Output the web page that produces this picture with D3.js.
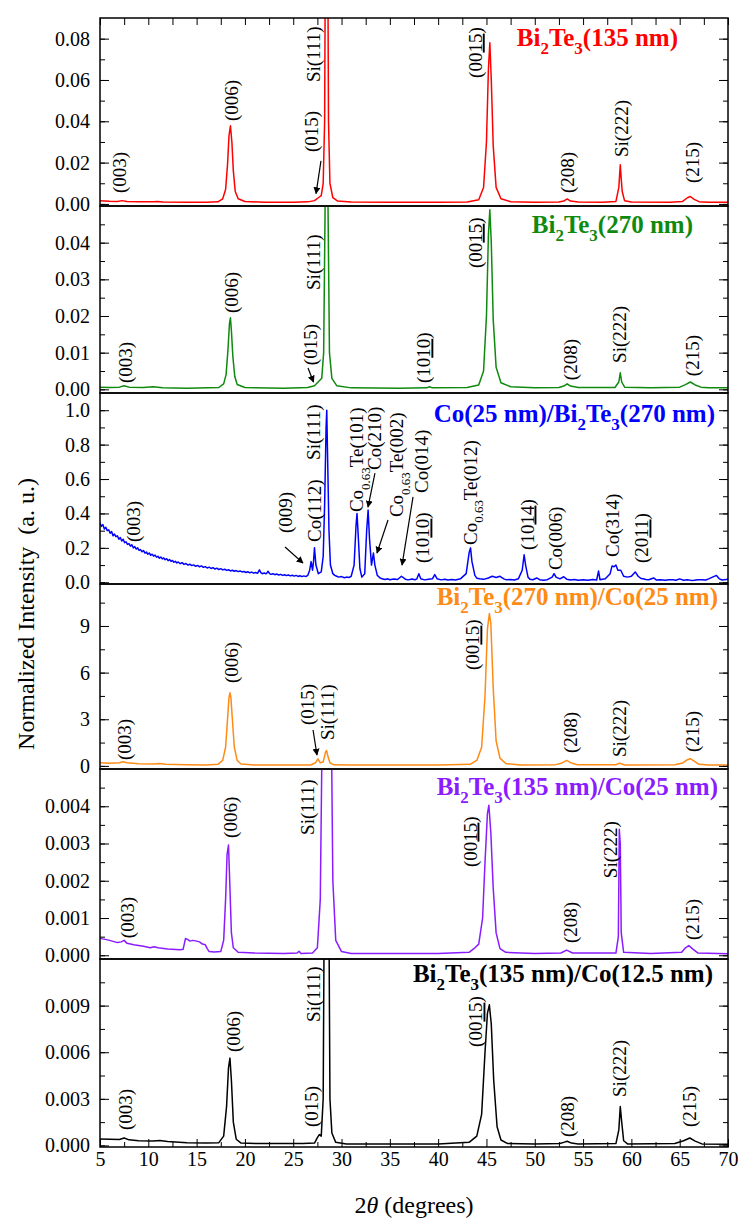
<!DOCTYPE html>
<html>
<head>
<meta charset="utf-8">
<script src="https://cdn.jsdelivr.net/npm/d3@7"></script>
<style>
  body { margin: 0; background: #fff; }
  text { font-family: "Liberation Serif", "Times New Roman", serif; }
</style>
</head>
<body>
<svg id="chart" width="738" height="1218"></svg>
<script>
// ---------- x axis ----------
const twoThetaTicks = [5, 10, 15, 20, 25, 30, 35, 40, 45, 50, 55, 60, 65, 70];

// ---------- y tick values per panel ----------
const yTicksBT135 = [0, 0.02, 0.04, 0.06, 0.08];
const yTicksBT270 = [0, 0.01, 0.02, 0.03, 0.04];
const yTicksCoBT = [0, 0.2, 0.4, 0.6, 0.8, 1.0];
const yTicksBT270Co = [0, 3, 6, 9];
const yTicksBT135Co25 = [0, 0.001, 0.002, 0.003, 0.004];
const yTicksBT135Co12 = [0, 0.003, 0.006, 0.009];

// ---------- XRD patterns: [2theta (deg), normalized intensity] ----------
const bt135 = [[5,0.0016],[6,0.0013],[6.8,0.0012],[7.3,0.0016],[7.8,0.0012],[9,0.0010],[10.5,0.0010],[11,0.0012],[11.5,0.0009],[14,0.0008],[16,0.0008],[17.2,0.0010],[17.7,0.0025],[18.0,0.0070],[18.2,0.0190],[18.35,0.0330],[18.5,0.0378],[18.65,0.0300],[18.8,0.0160],[19.0,0.0060],[19.3,0.0025],[20,0.0012],[22,0.0008],[25,0.0008],[26.5,0.0010],[27.2,0.0016],[27.6,0.0030],[27.9,0.0040],[28.1,0.0100],[28.25,0.0400],[28.35,0.1500],[28.45,0.3000],[28.55,0.1500],[28.65,0.0400],[28.8,0.0100],[29.1,0.0030],[29.6,0.0014],[31,0.0009],[35,0.0008],[40,0.0008],[43,0.0009],[44.2,0.0020],[44.7,0.0080],[45.0,0.0300],[45.2,0.0650],[45.35,0.0780],[45.5,0.0600],[45.7,0.0280],[46.0,0.0080],[46.5,0.0025],[47.5,0.0011],[50,0.0008],[52.5,0.0009],[53.0,0.0014],[53.35,0.0024],[53.7,0.0014],[54.5,0.0009],[57,0.0008],[58.4,0.0012],[58.7,0.0080],[58.85,0.0190],[58.95,0.0120],[59.05,0.0060],[59.3,0.0015],[60,0.0009],[64,0.0008],[65.3,0.0012],[65.8,0.0030],[66.1,0.0036],[66.5,0.0022],[67,0.0011],[68,0.0008],[70,0.0008]];

const bt270 = [[5,0.0006],[6,0.0005],[7,0.0006],[7.5,0.0010],[8,0.0006],[9.5,0.0005],[10.5,0.0007],[11.5,0.0004],[14,0.0003],[17.3,0.0005],[17.8,0.0015],[18.05,0.0040],[18.25,0.0110],[18.4,0.0180],[18.5,0.0195],[18.6,0.0160],[18.75,0.0090],[18.95,0.0035],[19.2,0.0013],[20,0.0005],[24,0.0003],[26.5,0.0005],[27.2,0.0010],[27.65,0.0022],[27.95,0.0030],[28.15,0.0100],[28.3,0.0500],[28.45,0.2000],[28.6,0.0500],[28.75,0.0100],[29.0,0.0030],[29.5,0.0010],[31,0.0004],[36,0.0003],[38.8,0.0004],[39.1,0.0007],[39.4,0.0004],[43,0.0005],[44.2,0.0012],[44.7,0.0050],[45.0,0.0200],[45.2,0.0420],[45.35,0.0490],[45.5,0.0400],[45.7,0.0190],[46.0,0.0060],[46.5,0.0018],[47.5,0.0007],[50,0.0004],[52.5,0.0005],[53.0,0.0009],[53.35,0.0015],[53.7,0.0009],[54.5,0.0005],[58.3,0.0005],[58.7,0.0020],[58.85,0.0045],[59.0,0.0020],[59.3,0.0006],[62,0.0004],[65,0.0006],[65.6,0.0013],[66.1,0.0020],[66.6,0.0012],[67.2,0.0006],[68,0.0004],[70,0.0004]];

const co25bt270 = [[5.0,0.345],[5.15,0.325],[5.3,0.335],[5.45,0.31],[5.6,0.32],[5.75,0.30],[5.9,0.305],[6.05,0.285],[6.2,0.295],[6.35,0.27],[6.5,0.28],[6.65,0.265],[6.8,0.27],[6.95,0.25],[7.1,0.26],[7.25,0.24],[7.4,0.25],[7.55,0.23],[7.7,0.235],[7.85,0.22],[8.0,0.225],[8.15,0.21],[8.3,0.218],[8.45,0.20],[8.6,0.207],[8.75,0.193],[8.9,0.20],[9.05,0.185],[9.2,0.19],[9.35,0.177],[9.5,0.185],[9.65,0.17],[9.8,0.176],[9.95,0.163],[10.1,0.17],[10.25,0.157],[10.4,0.163],[10.55,0.152],[10.7,0.158],[10.85,0.146],[11.0,0.151],[11.15,0.14],[11.3,0.147],[11.45,0.136],[11.6,0.141],[11.75,0.131],[11.9,0.137],[12.05,0.126],[12.2,0.132],[12.35,0.122],[12.5,0.127],[12.65,0.117],[12.8,0.122],[12.95,0.112],[13.1,0.118],[13.3,0.108],[13.5,0.114],[13.7,0.104],[13.9,0.109],[14.1,0.10],[14.3,0.105],[14.5,0.097],[14.7,0.101],[14.9,0.093],[15.1,0.098],[15.3,0.09],[15.5,0.095],[15.7,0.087],[15.9,0.091],[16.1,0.083],[16.3,0.088],[16.5,0.08],[16.7,0.085],[16.9,0.077],[17.1,0.082],[17.3,0.074],[17.5,0.079],[17.7,0.072],[17.9,0.076],[18.1,0.069],[18.3,0.073],[18.5,0.066],[18.7,0.07],[18.9,0.064],[19.1,0.068],[19.3,0.062],[19.5,0.066],[19.7,0.06],[19.9,0.063],[20.1,0.057],[20.3,0.061],[20.5,0.055],[20.7,0.059],[20.9,0.053],[21.1,0.057],[21.3,0.052],[21.5,0.072],[21.65,0.056],[21.8,0.05],[22.0,0.054],[22.2,0.049],[22.4,0.064],[22.55,0.05],[22.7,0.046],[22.9,0.05],[23.1,0.044],[23.3,0.048],[23.5,0.042],[23.7,0.046],[23.9,0.04],[24.1,0.044],[24.3,0.039],[24.5,0.042],[24.7,0.037],[24.9,0.041],[25.1,0.036],[25.3,0.04],[25.5,0.034],[25.7,0.038],[25.9,0.033],[26.1,0.037],[26.3,0.033],[26.5,0.04],[26.7,0.07],[26.85,0.12],[27.0,0.07],[27.1,0.12],[27.2,0.20],[27.35,0.10],[27.6,0.05],[27.9,0.06],[28.1,0.15],[28.25,0.45],[28.4,0.90],[28.47,1.00],[28.55,0.75],[28.7,0.30],[28.85,0.10],[29.1,0.05],[29.3,0.04],[29.5,0.035],[29.7,0.03],[30.0,0.033],[30.3,0.026],[30.5,0.03],[30.8,0.028],[31.0,0.035],[31.3,0.10],[31.5,0.33],[31.6,0.40],[31.7,0.30],[31.9,0.08],[32.1,0.03],[32.4,0.05],[32.6,0.30],[32.75,0.42],[32.9,0.25],[33.1,0.10],[33.3,0.17],[33.45,0.10],[33.7,0.04],[34.0,0.025],[34.2,0.02],[34.5,0.016],[34.8,0.02],[35,0.015],[35.4,0.019],[35.8,0.016],[36.2,0.035],[36.6,0.018],[36.9,0.014],[37.3,0.019],[37.6,0.015],[37.8,0.02],[38.0,0.05],[38.2,0.02],[38.6,0.014],[39.0,0.018],[39.4,0.02],[39.65,0.045],[39.9,0.02],[40.3,0.014],[40.7,0.017],[41,0.013],[41.4,0.016],[41.8,0.013],[42.3,0.02],[42.9,0.05],[43.2,0.17],[43.35,0.20],[43.5,0.12],[43.8,0.04],[44.0,0.024],[44.3,0.02],[44.7,0.017],[45.2,0.025],[45.6,0.035],[46.0,0.028],[46.4,0.035],[46.8,0.02],[47.1,0.014],[47.5,0.016],[47.9,0.013],[48.3,0.02],[48.7,0.07],[48.9,0.16],[49.05,0.10],[49.3,0.03],[49.5,0.018],[49.8,0.015],[50.2,0.025],[50.5,0.015],[50.9,0.012],[51.3,0.015],[51.8,0.03],[52.0,0.05],[52.2,0.03],[52.6,0.02],[53.0,0.032],[53.3,0.018],[53.7,0.013],[54.1,0.016],[54.5,0.012],[55.0,0.015],[55.5,0.012],[56.0,0.016],[56.4,0.013],[56.6,0.065],[56.75,0.015],[57.0,0.018],[57.3,0.02],[57.8,0.05],[58.0,0.095],[58.2,0.09],[58.4,0.10],[58.6,0.07],[58.9,0.07],[59.2,0.035],[59.6,0.03],[60.0,0.035],[60.4,0.06],[60.7,0.035],[61.0,0.022],[61.2,0.02],[61.5,0.016],[61.8,0.015],[62.3,0.025],[62.6,0.013],[63.0,0.015],[63.5,0.012],[63.9,0.015],[64.3,0.015],[64.6,0.012],[65.0,0.02],[65.4,0.012],[65.8,0.015],[66.2,0.011],[66.5,0.012],[66.9,0.015],[67.3,0.015],[67.7,0.013],[68.0,0.02],[68.4,0.03],[68.8,0.04],[69.1,0.02],[69.4,0.013],[69.6,0.015],[70,0.018]];

const bt270co25 = [[5,0.20],[6,0.17],[7,0.20],[7.4,0.26],[7.8,0.20],[9,0.14],[10.5,0.12],[11.2,0.16],[11.8,0.11],[14,0.08],[16,0.06],[17.2,0.10],[17.7,0.35],[18.0,1.20],[18.2,3.00],[18.35,4.40],[18.45,4.70],[18.55,4.40],[18.7,3.00],[18.9,1.20],[19.2,0.35],[19.6,0.12],[21,0.06],[25,0.05],[26.8,0.06],[27.3,0.20],[27.55,0.45],[27.8,0.20],[28.1,0.25],[28.35,0.90],[28.45,0.98],[28.6,0.60],[28.8,0.20],[29.2,0.07],[31,0.05],[40,0.05],[43.3,0.10],[44.0,0.35],[44.5,1.20],[44.85,4.50],[45.1,8.80],[45.3,9.80],[45.45,9.20],[45.7,5.00],[46.0,1.60],[46.4,0.50],[47.0,0.15],[48.5,0.06],[52.2,0.08],[52.8,0.18],[53.3,0.35],[53.8,0.18],[54.4,0.07],[58.4,0.07],[58.8,0.18],[58.95,0.14],[59.3,0.06],[64.5,0.07],[65.3,0.18],[65.8,0.40],[66.1,0.46],[66.5,0.30],[67.0,0.10],[68,0.05],[70,0.05]];

const bt135co25 = [[5,0.00046],[5.3,0.00044],[6,0.00040],[6.8,0.00034],[7.2,0.00036],[7.5,0.00040],[7.8,0.00032],[8.5,0.00028],[9.5,0.00024],[10.2,0.00020],[10.6,0.00023],[11.0,0.00020],[12,0.00017],[13.3,0.00015],[13.6,0.00016],[13.85,0.00045],[14.1,0.00042],[14.3,0.00038],[14.6,0.00040],[15.0,0.00038],[15.3,0.00036],[15.6,0.00030],[15.9,0.00028],[16.1,0.00018],[16.3,0.00010],[16.8,0.00009],[17.5,0.00010],[17.8,0.00040],[18.0,0.00150],[18.15,0.00270],[18.3,0.00296],[18.45,0.00180],[18.6,0.00060],[18.8,0.00020],[19.3,0.00008],[21,0.00006],[24,0.00005],[25.4,0.00006],[25.6,0.00011],[25.8,0.00005],[27.0,0.00006],[27.5,0.00020],[27.8,0.00150],[27.95,0.00500],[28.1,0.02000],[28.3,0.10000],[28.45,0.20000],[28.6,0.10000],[28.8,0.02000],[28.95,0.00600],[29.1,0.00200],[29.4,0.00040],[30,0.00010],[31,0.00005],[40,0.00005],[43.2,0.00008],[43.8,0.00020],[44.2,0.00030],[44.6,0.00100],[44.85,0.00250],[45.1,0.00380],[45.25,0.00403],[45.45,0.00330],[45.7,0.00180],[46.0,0.00060],[46.4,0.00018],[47,0.00008],[50,0.00005],[52.7,0.00006],[53.3,0.00014],[53.9,0.00006],[58.4,0.00006],[58.65,0.00050],[58.75,0.00338],[58.85,0.00300],[58.95,0.00060],[59.2,0.00008],[62,0.00005],[65.2,0.00008],[65.6,0.00020],[65.95,0.00026],[66.4,0.00016],[66.9,0.00006],[70,0.00004]];

const bt135co12 = [[5,0.00042],[6,0.00040],[7,0.00038],[7.5,0.00048],[8,0.00036],[9,0.00030],[10.5,0.00028],[11.2,0.00032],[12,0.00025],[14,0.00018],[16,0.00016],[17.3,0.00018],[17.8,0.00060],[18.1,0.00250],[18.3,0.00500],[18.45,0.00562],[18.6,0.00420],[18.8,0.00150],[19.1,0.00040],[19.6,0.00015],[22,0.00012],[26,0.00012],[27.2,0.00015],[27.5,0.00050],[27.7,0.00070],[27.9,0.00060],[28.1,0.00300],[28.25,0.02000],[28.45,0.05000],[28.65,0.02000],[28.8,0.00300],[29.0,0.00080],[29.4,0.00020],[30.5,0.00010],[40,0.00010],[43.2,0.00020],[44.0,0.00060],[44.5,0.00200],[44.85,0.00600],[45.1,0.00850],[45.3,0.00905],[45.5,0.00780],[45.75,0.00420],[46.1,0.00120],[46.5,0.00035],[47.2,0.00012],[50,0.00010],[52.6,0.00012],[53.0,0.00020],[53.35,0.00027],[53.8,0.00015],[54.5,0.00010],[58.4,0.00012],[58.7,0.00100],[58.85,0.00250],[59.0,0.00150],[59.2,0.00030],[59.6,0.00010],[64.5,0.00012],[65.4,0.00030],[66.05,0.00048],[66.6,0.00028],[67.3,0.00010],[70,0.00008]];

// ---------- sample names (~x~ = subscript) ----------
const sampleNames = [
  "Bi~2~Te~3~(135 nm)",
  "Bi~2~Te~3~(270 nm)",
  "Co(25 nm)/Bi~2~Te~3~(270 nm)",
  "Bi~2~Te~3~(270 nm)/Co(25 nm)",
  "Bi~2~Te~3~(135 nm)/Co(25 nm)",
  "Bi~2~Te~3~(135 nm)/Co(12.5 nm)"
];

// ---------- reflection labels, anchored in data coordinates (|x| = underlined) ----------
const peaksBT135 = [
  {t:"(003)", x:6.97, y:0.0053}, {t:"(006)", x:18.66, y:0.0401},
  {t:"(015)", x:26.94, y:0.0251}, {t:"Si(111)", x:27.05, y:0.059},
  {t:"(00|15|)", x:43.85, y:0.061}, {t:"(208)", x:53.34, y:0.0053},
  {t:"Si(222)", x:58.99, y:0.0227}, {t:"(215)", x:66.32, y:0.0101}
];
const peaksBT270 = [
  {t:"(003)", x:7.69, y:0.0017}, {t:"(006)", x:18.66, y:0.0208},
  {t:"(015)", x:26.84, y:0.0066}, {t:"Si(111)", x:27.05, y:0.0271},
  {t:"(10|10|)", x:38.53, y:0.0017}, {t:"(00|15|)", x:43.85, y:0.0331},
  {t:"(208)", x:53.75, y:0.0025}, {t:"Si(222)", x:58.82, y:0.0072},
  {t:"(215)", x:66.28, y:0.0036}
];
const peaksCoBT = [
  {t:"(003)", x:8.42, y:0.234}, {t:"(009)", x:24.25, y:0.286},
  {t:"Co(112)", x:27.25, y:0.234}, {t:"Si(111)", x:27.05, y:0.711},
  {t:"Co~0.63~Te(101)", x:31.6, y:0.408}, {t:"Co(210)", x:33.46, y:0.653},
  {t:"Co~0.63~Te(002)", x:35.74, y:0.379}, {t:"Co(014)", x:38.33, y:0.519},
  {t:"(10|10|)", x:38.43, y:0.112}, {t:"Co~0.63~Te(012)", x:43.3, y:0.217},
  {t:"(10|14|)", x:49.2, y:0.188}, {t:"Co(006)", x:52.1, y:0.071},
  {t:"Co(314)", x:58.1, y:0.147}, {t:"(20|11|)", x:61.1, y:0.112}
];
const peaksBT270Co = [
  {t:"(003)", x:7.59, y:0.379}, {t:"(006)", x:18.66, y:5.33},
  {t:"(015)", x:26.43, y:2.63}, {t:"Si(111)", x:28.6, y:1.66},
  {t:"(00|15|)", x:43.6, y:6.17}, {t:"(208)", x:53.75, y:0.83},
  {t:"Si(222)", x:58.82, y:0.57}, {t:"(215)", x:66.38, y:0.89}
];
const peaksBT135Co25 = [
  {t:"(003)", x:7.9, y:0.00046}, {t:"(006)", x:18.46, y:0.00315},
  {t:"Si(111)", x:26.53, y:0.00323}, {t:"(00|15|)", x:43.3, y:0.00237},
  {t:"(208)", x:53.65, y:0.00033}, {t:"Si(222)", x:57.79, y:0.00207},
  {t:"(215)", x:66.28, y:0.00041}
];
const peaksBT135Co12 = [
  {t:"(003)", x:7.69, y:0.00099}, {t:"(006)", x:18.87, y:0.00601},
  {t:"Si(111)", x:27.15, y:0.00795}, {t:"(015)", x:26.94, y:0.00119},
  {t:"(00|15|)", x:43.92, y:0.00634}, {t:"(208)", x:53.34, y:0.00054},
  {t:"Si(222)", x:58.82, y:0.00312}, {t:"(215)", x:66.07, y:0.00119}
];

// ---------- pointer arrows: [x0, y0] -> [x1, y1] in data coordinates ----------
const arrowsBT135 = [[[27.87, 0.0208], [27.36, 0.0050]]];
const arrowsBT270 = [[[26.53, 0.0058], [27.1, 0.0020]]];
const arrowsCoBT = [
  [[24.15, 0.205], [26.01, 0.112]],
  [[33.46, 0.635], [32.74, 0.437]],
  [[34.81, 0.362], [33.67, 0.170]],
  [[37.40, 0.496], [36.26, 0.100]]
];
const arrowsBT270Co = [[[27.05, 2.31], [27.46, 0.70]]];

// ---------- layout ----------
const plotLeft = 100, plotRight = 728;
const tickFont = 20, peakFont = 19, nameFont = 25;
const panels = [
  {data: bt135, color: "#ff0000", name: sampleNames[0], top: 18, bottom: 206, domain: [-0.001, 0.09],
   ticks: yTicksBT135, minor: 0.01, fmt: ".2f", nameX: 678, nameY: 46, peaks: peaksBT135, arrows: arrowsBT135},
  {data: bt270, color: "#0f8a0f", name: sampleNames[1], top: 206, bottom: 393, domain: [-0.001, 0.05],
   ticks: yTicksBT270, minor: 0.005, fmt: ".2f", nameX: 693, nameY: 233, peaks: peaksBT270, arrows: arrowsBT270},
  {data: co25bt270, color: "#0000ff", name: sampleNames[2], top: 393, bottom: 584, domain: [-0.01, 1.1],
   ticks: yTicksCoBT, minor: 0.1, fmt: ".1f", nameX: 715, nameY: 422, peaks: peaksCoBT, arrows: arrowsCoBT},
  {data: bt270co25, color: "#ff8a14", name: sampleNames[3], top: 584, bottom: 769, domain: [-0.2, 11.7],
   ticks: yTicksBT270Co, minor: 1.5, fmt: "d", nameX: 718, nameY: 605, peaks: peaksBT270Co, arrows: arrowsBT270Co},
  {data: bt135co25, color: "#8b1cff", name: sampleNames[4], top: 769, bottom: 959, domain: [-0.0001, 0.005],
   ticks: yTicksBT135Co25, minor: 0.0005, fmt: ".3f", nameX: 718, nameY: 795, peaks: peaksBT135Co25, arrows: []},
  {data: bt135co12, color: "#000000", name: sampleNames[5], top: 959, bottom: 1147, domain: [-0.0001, 0.012],
   ticks: yTicksBT135Co12, minor: 0.0015, fmt: ".3f", nameX: 713, nameY: 982, peaks: peaksBT135Co12, arrows: []}
];

const svg = d3.select("#chart");
const x = d3.scaleLinear().domain([5, 70]).range([plotLeft, plotRight]);

const defs = svg.append("defs");
defs.append("marker")
  .attr("id", "arrowhead").attr("viewBox", "0 0 10 10")
  .attr("refX", 9).attr("refY", 5)
  .attr("markerWidth", 7).attr("markerHeight", 7)
  .attr("markerUnits", "userSpaceOnUse")
  .attr("orient", "auto")
  .append("path").attr("d", "M0,0 L10,5 L0,10 Z").attr("fill", "#000");

// writes "~sub~" and "|underline|" markup into a text element
function richText(textSel, str, fontSize) {
  const shift = fontSize * 0.32;
  let shifted = false;
  str.split(/(~[^~]*~|\|[^|]*\|)/).filter(s => s.length).forEach(s => {
    const ts = textSel.append("tspan");
    if (s[0] === "~") {
      ts.attr("font-size", fontSize * 0.68).attr("dy", shift).text(s.slice(1, -1));
      shifted = true;
      return;
    }
    if (shifted) { ts.attr("dy", -shift); shifted = false; }
    if (s[0] === "|") ts.style("text-decoration", "underline").text(s.slice(1, -1));
    else ts.text(s);
  });
}

const serif = "Liberation Serif";

panels.forEach((p, i) => {
  const y = d3.scaleLinear().domain(p.domain).range([p.bottom, p.top]);
  const g = svg.append("g");
  const clipId = "clip" + i;
  defs.append("clipPath").attr("id", clipId)
    .append("rect").attr("x", plotLeft).attr("y", p.top)
    .attr("width", plotRight - plotLeft).attr("height", p.bottom - p.top);

  // pattern
  const line = d3.line().x(d => x(d[0])).y(d => y(d[1]));
  g.append("path").datum(p.data)
    .attr("clip-path", `url(#${clipId})`)
    .attr("fill", "none").attr("stroke", p.color).attr("stroke-width", 1.5)
    .attr("stroke-linejoin", "round").attr("d", line);

  // minor ticks
  const top = p.domain[1];
  const minors = d3.range(0, top, p.minor).filter(v => v < top - p.minor * 0.3);
  [d3.axisLeft(y), d3.axisRight(y)].forEach((ax, k) => {
    g.append("g").attr("transform", `translate(${k ? plotRight : plotLeft},0)`)
      .call(ax.tickValues(minors).tickSizeInner(-5).tickSizeOuter(0).tickFormat(""))
      .call(s => s.select(".domain").remove());
  });
  // major ticks
  g.append("g").attr("transform", `translate(${plotLeft},0)`)
    .call(d3.axisLeft(y).tickValues(p.ticks).tickSizeInner(-9).tickSizeOuter(0)
      .tickPadding(10).tickFormat(d3.format(p.fmt)))
    .call(s => s.select(".domain").remove())
    .call(s => s.attr("font-family", serif).attr("font-size", tickFont))
    .call(s => s.selectAll("text").attr("fill", "#000"));
  g.append("g").attr("transform", `translate(${plotRight},0)`)
    .call(d3.axisRight(y).tickValues(p.ticks).tickSizeInner(-9).tickSizeOuter(0).tickFormat(""))
    .call(s => s.select(".domain").remove());

  // frame
  g.append("rect").attr("x", plotLeft).attr("y", p.top)
    .attr("width", plotRight - plotLeft).attr("height", p.bottom - p.top)
    .attr("fill", "none").attr("stroke", "#000").attr("stroke-width", 1.5);

  // sample name
  const nm = g.append("text").attr("x", p.nameX).attr("y", p.nameY)
    .attr("text-anchor", "end").attr("font-weight", "bold").attr("font-size", nameFont)
    .attr("fill", p.color);
  richText(nm, p.name, nameFont);

  // reflection labels
  p.peaks.forEach(pk => {
    const t = g.append("text")
      .attr("transform", `translate(${x(pk.x)},${y(pk.y)}) rotate(-90)`)
      .attr("dy", "0.34em").attr("font-size", peakFont).attr("fill", "#000");
    richText(t, pk.t, peakFont);
  });

  // pointer arrows
  p.arrows.forEach(a => {
    g.append("line")
      .attr("x1", x(a[0][0])).attr("y1", y(a[0][1]))
      .attr("x2", x(a[1][0])).attr("y2", y(a[1][1]))
      .attr("stroke", "#000").attr("stroke-width", 1.2)
      .attr("marker-end", "url(#arrowhead)");
  });
});

// shared 2-theta axis
const first = panels[0], last = panels[panels.length - 1];
const xMinor = d3.range(7.5, 70, 5);
svg.append("g").attr("transform", `translate(0,${first.top})`)
  .call(d3.axisTop(x).tickValues(twoThetaTicks.concat(xMinor)).tickSizeInner(-7).tickSizeOuter(0).tickFormat(""))
  .call(s => s.select(".domain").remove());
svg.append("g").attr("transform", `translate(0,${last.bottom})`)
  .call(d3.axisBottom(x).tickValues(xMinor).tickSizeInner(-5).tickSizeOuter(0).tickFormat(""))
  .call(s => s.select(".domain").remove());
svg.append("g").attr("transform", `translate(0,${last.bottom})`)
  .call(d3.axisBottom(x).tickValues(twoThetaTicks).tickSizeInner(-8).tickSizeOuter(0)
    .tickPadding(5).tickFormat(d3.format("d")))
  .call(s => s.select(".domain").remove())
  .call(s => s.attr("font-family", serif).attr("font-size", tickFont))
  .call(s => s.selectAll("text").attr("fill", "#000"));

// axis titles
const xt = svg.append("text").attr("x", (plotLeft + plotRight) / 2).attr("y", 1213)
  .attr("text-anchor", "middle").attr("font-size", 24);
xt.append("tspan").text("2");
xt.append("tspan").attr("font-style", "italic").text("θ");
xt.append("tspan").text(" (degrees)");

svg.append("text")
  .attr("transform", "translate(26,614) rotate(-90)")
  .attr("dy", "0.35em").attr("text-anchor", "middle").attr("font-size", 24)
  .attr("xml:space", "preserve")
  .text("Normalized Intensity  (a. u.)");
</script>
</body>
</html>
